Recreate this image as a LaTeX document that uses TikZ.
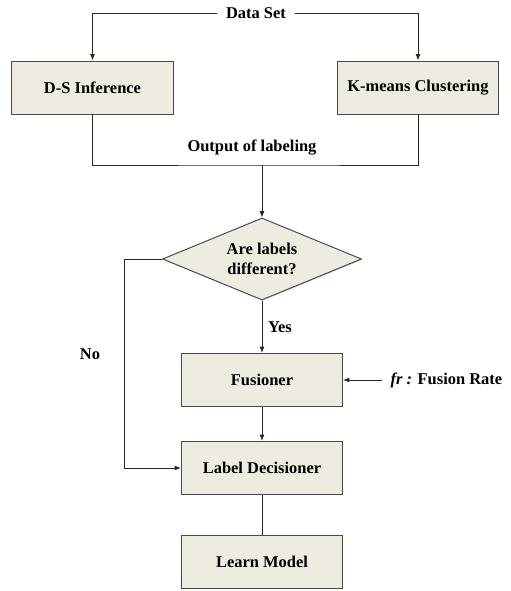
\documentclass[tikz,border=0pt]{standalone}
\usepackage{fontspec}
\setmainfont{Liberation Serif}
\usetikzlibrary{shapes.geometric,arrows.meta,shadows}

\definecolor{boxfill}{HTML}{EEECE1}
\definecolor{boxline}{HTML}{4A4A4A}

\tikzset{
    procbox/.style={draw=boxline, fill=boxfill, line width=0.7pt,
        minimum width=4.025cm, minimum height=1.325cm, inner sep=2pt,
        font=\fontsize{11.7}{14}\selectfont\bfseries,
        drop shadow={shadow xshift=0.6pt, shadow yshift=-0.6pt, opacity=0.35}},
    decbox/.style={diamond, aspect=2.43, draw=boxline, fill=boxfill, line width=0.7pt,
        minimum width=4.975cm, minimum height=2.05cm, inner sep=0pt,
        align=center, font=\fontsize{11.7}{14}\selectfont\bfseries,
        drop shadow={shadow xshift=0.6pt, shadow yshift=-0.6pt, opacity=0.35}},
    lbl/.style={font=\fontsize{11.7}{14}\selectfont\bfseries},
    link/.style={draw=black!85, line width=0.6pt},
    arr/.style={link, -{Latex[length=4.5pt,width=3.5pt]}}
}

\begin{document}
\begin{tikzpicture}[x=0.025cm, y=-0.025cm]
                \useasboundingbox (0,0) rectangle (511,591);

                % boxes
                \node[procbox] (ds) at (92.5,87.5) {D-S Inference};
                \node[procbox] (km) at (418,87.5) {K-means Clustering};
                \node[decbox] (diff) at (262,259) {Are labels\\different?};
                \node[procbox] (fus) at (262,380) {Fusioner};
                \node[procbox] (dec) at (262,468) {Label Decisioner};
                \node[procbox] (learn) at (262,562) {Learn Model};

                % labels
                \node[lbl, inner xsep=6pt] (data) at (256,13) {Data Set};
                \node[lbl] (out) at (252,148) {Output of labeling};
                \node[lbl] (yes) at (280,327) {Yes};
                \node[lbl] (no) at (90,354) {No};
                \node[lbl, anchor=west, inner xsep=6pt] (fr) at (382,380) {\textit{fr :} Fusion Rate};

                \coordinate (join) at (262,165);
                \coordinate (noleft) at (124,259);

                \draw[arr] (data.west) -| (ds.north);
                \draw[arr] (data.east) -| (km.north);
                \draw[link] (ds.south) |- (join) -| (km.south);
                \draw[arr] (join) -- (diff.north);
                \draw[arr] (diff.south) -- (fus.north);
                \draw[arr] (fr.west) -- (fus.east);
                \draw[arr] (fus.south) -- (dec.north);
                \draw[link] (dec.south) -- (learn.north);
                \draw[arr] (diff.west) -- (noleft) |- (dec.west);
            \end{tikzpicture}
\end{document}
